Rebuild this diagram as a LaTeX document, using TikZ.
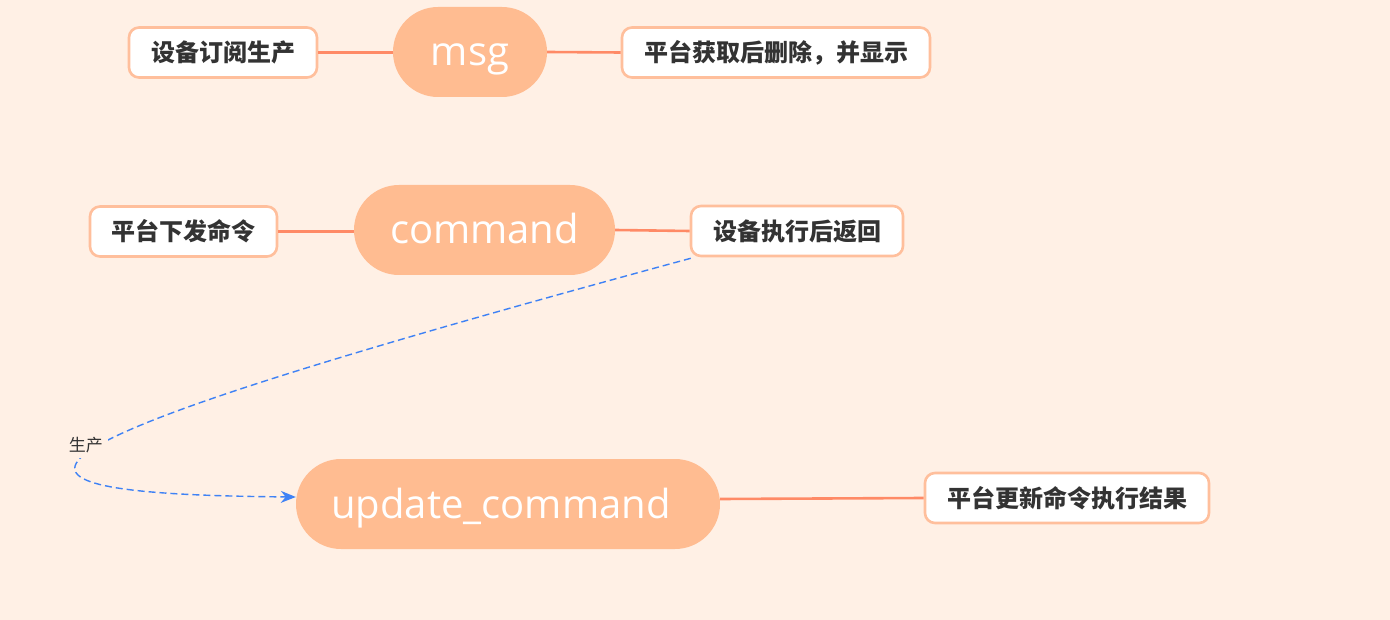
\documentclass[tikz,border=0pt]{standalone}
\usepackage{fontspec}
\newfontfamily\cjk{Noto Sans CJK SC}
\newfontfamily\latin{Open Sans}
\usetikzlibrary{arrows.meta}
\definecolor{bg}{HTML}{FFF0E5}
\definecolor{mainfill}{HTML}{FFBC91}
\definecolor{linkc}{HTML}{FF8A66}
\definecolor{boxborder}{HTML}{FFBF9C}
\definecolor{txt}{HTML}{333333}
\definecolor{dashc}{HTML}{3F82F5}
\tikzset{
  mainnode/.style={fill=mainfill, rounded corners=45pt, minimum height=90pt, text=white, font=\latin\fontsize{40}{44}\selectfont, inner sep=0pt, text height=29pt, text depth=1pt},
  sidebox/.style={fill=white, draw=boxborder, line width=2.6pt, rounded corners=10pt, minimum height=50pt, text=txt, font=\cjk\bfseries\fontsize{24}{26}\selectfont, inner sep=0pt},
  link/.style={draw=linkc, line width=2.6pt},
  dashlink/.style={draw=dashc, line width=1.4pt, dash pattern=on 7pt off 4pt, -{Stealth[length=15pt,width=12pt]}},
}
\begin{document}
\begin{tikzpicture}[x=1pt,y=-1pt]
\fill[bg] (0,0) rectangle (1390,620);
\useasboundingbox (0,0) rectangle (1390,620);
% main nodes
\node[mainnode, minimum width=154pt] (msg) at (470,52) {msg};
\node[mainnode, minimum width=261pt] (cmd) at (484.5,230) {command};
\node[mainnode, minimum width=424pt] (upd) at (508,504) {update\_command\hspace*{14pt}};
% side boxes
\node[sidebox, minimum width=188pt] (sub) at (223,52.5) {设备订阅生产};
\node[sidebox, minimum width=308pt] (fetch) at (776,52.5) {平台获取后删除，并显示};
\node[sidebox, minimum width=187pt] (send) at (183.5,231.5) {平台下发命令};
\node[sidebox, minimum width=212pt] (ret) at (797,231) {设备执行后返回};
\node[sidebox, minimum width=284pt] (res) at (1067,498) {平台更新命令执行结果};
% connectors
\draw[link] (sub.east) -- (sub.east -| msg.west);
\draw[link] (msg.east) -- (fetch.west);
\draw[link] (send.east) -- (send.east -| cmd.west);
\draw[link] (cmd.east) -- (ret.west);
\draw[link] ([yshift=5pt]upd.east) -- (res.west);
% dashed curve
\draw[dashlink] ([xshift=1pt,yshift=-1pt]ret.south west) .. controls (-12,449) and (-64,494) .. ([yshift=7pt]upd.west)
  node[pos=0.5, xshift=-9pt, yshift=3pt, fill=bg, text=txt, font=\cjk\fontsize{17}{19}\selectfont, inner sep=5pt] {生产};
\end{tikzpicture}
\end{document}
